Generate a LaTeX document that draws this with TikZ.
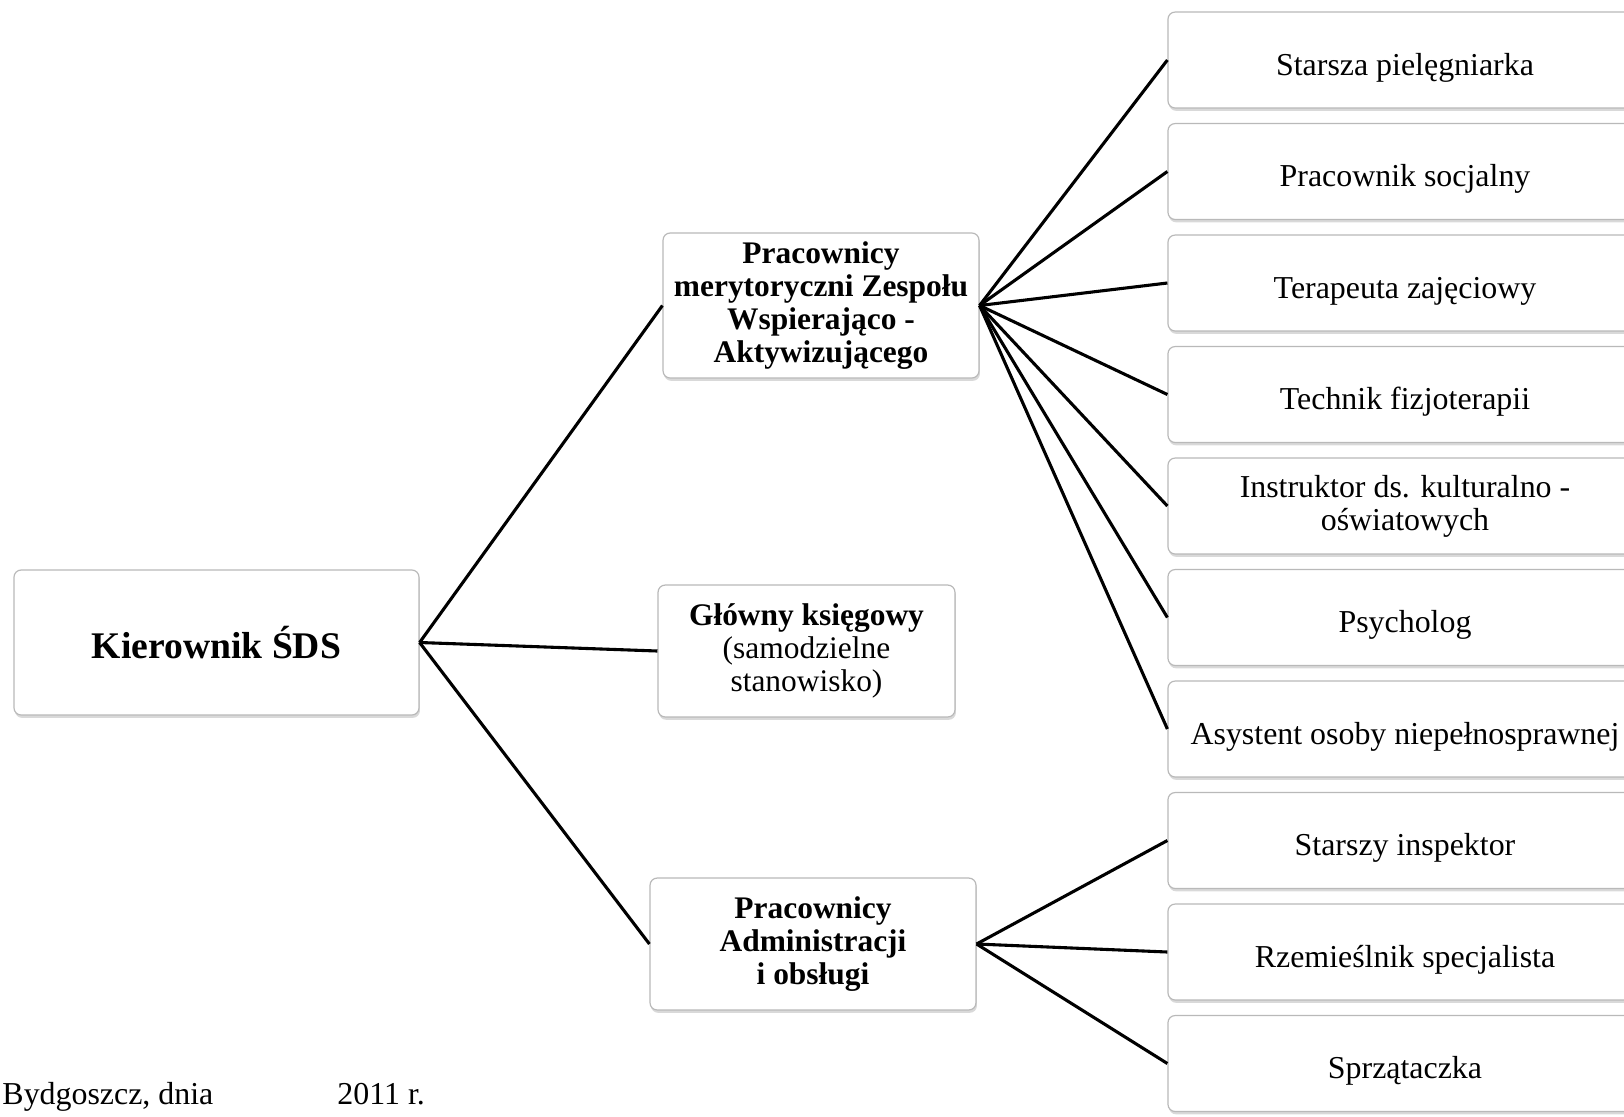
\documentclass[tikz,border=0pt]{standalone}
\usepackage{fontspec}
\setmainfont{Liberation Serif}
\usetikzlibrary{shadows}

\begin{document}
\begin{tikzpicture}[x=0.42pt,y=-0.42pt]
    \tikzstyle{every node}+=[inner sep=0pt]
    \tikzstyle{box}=[draw=gray!55, line width=0.5pt, fill=white, rounded corners=3pt, align=center, drop shadow={shadow xshift=0.4pt, shadow yshift=-1.2pt, opacity=0.3}]
    \tikzstyle{head}=[box, font=\fontsize{13.2}{13.9}\selectfont\bfseries]
    \tikzstyle{post}=[box, minimum width=199.1pt, minimum height=40.3pt, text height=15.7pt, text depth=3pt, font=\fontsize{13.4}{13.9}\selectfont]
    \tikzstyle{link}=[black, line width=1.3pt]
    \useasboundingbox (0,0) rectangle (1624,1116);
    \node [box, minimum width=170.1pt, minimum height=60.9pt, font=\fontsize{15.8}{17}\selectfont\bfseries] (kier) at (216.5,642.5) {Kierownik ŚDS};
    \node [head, minimum width=132.7pt, minimum height=60.9pt] (meryt) at (821,305.5) {Pracownicy\\merytoryczni Zespołu\\Wspierająco -\\Aktywizującego};
    \node [head, minimum width=124.7pt, minimum height=55.4pt] (ksieg) at (806.5,651) {Główny księgowy\\\mdseries(samodzielne\\\mdseries stanowisko)};
    \node [head, minimum width=136.9pt, minimum height=55.4pt] (admin) at (813,944) {Pracownicy\\Administracji\\i obsługi};
    \node [post] (piel) at (1405,60) {Starsza pielęgniarka};
    \node [post] (socj) at (1405,171.5) {Pracownik socjalny};
    \node [post] (terap) at (1405,283) {Terapeuta zajęciowy};
    \node [post] (fizjo) at (1405,394.5) {Technik fizjoterapii};
    \node [post, text height=, text depth=] (instr) at (1405,506) {Instruktor ds. kulturalno -\\oświatowych};
    \node [post] (psych) at (1405,617.5) {Psycholog};
    \node [post] (asyst) at (1405,729) {Asystent osoby niepełnosprawnej};
    \node [post] (insp) at (1405,840.5) {Starszy inspektor};
    \node [post] (rzem) at (1405,952) {Rzemieślnik specjalista};
    \node [post] (sprz) at (1405,1063.5) {Sprzątaczka};
    \draw [link] (kier.east) -- (meryt.west);
    \draw [link] (kier.east) -- (ksieg.west);
    \draw [link] (kier.east) -- (admin.west);
    \draw [link] (meryt.east) -- (piel.west);
    \draw [link] (meryt.east) -- (socj.west);
    \draw [link] (meryt.east) -- (terap.west);
    \draw [link] (meryt.east) -- (fizjo.west);
    \draw [link] (meryt.east) -- (instr.west);
    \draw [link] (meryt.east) -- (psych.west);
    \draw [link] (meryt.east) -- (asyst.west);
    \draw [link] (admin.east) -- (insp.west);
    \draw [link] (admin.east) -- (rzem.west);
    \draw [link] (admin.east) -- (sprz.west);
    \node [anchor=base west, font=\fontsize{13.4}{13.9}\selectfont] (miejsce) at (2,1104) {Bydgoszcz, dnia};
    \node [anchor=base west, font=\fontsize{13.4}{13.9}\selectfont] (data) at (337,1104) {2011 r.};
\end{tikzpicture}
\end{document}
